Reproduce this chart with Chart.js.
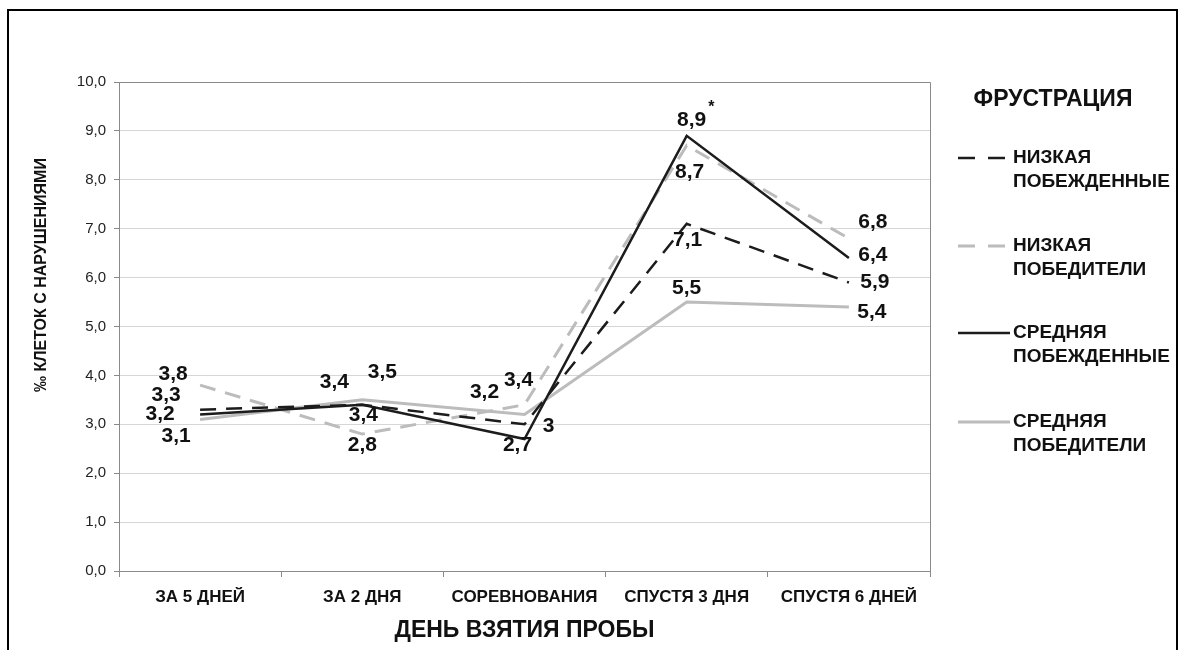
<!DOCTYPE html>
<html lang="ru">
<head>
<meta charset="UTF-8">
<title>Фрустрация</title>
<script src="https://cdn.jsdelivr.net/npm/chart.js"></script>
<style>
    html, body { margin: 0; padding: 0; background: #fff; }
    .wrap { width: 1180px; height: 650px; }
</style>
</head>
<body>
<div class="wrap"><canvas id="myChart" width="1180" height="650"></canvas></div>
<script>
    // data
    const days = ['ЗА 5 ДНЕЙ', 'ЗА 2 ДНЯ', 'СОРЕВНОВАНИЯ', 'СПУСТЯ 3 ДНЯ', 'СПУСТЯ 6 ДНЕЙ'];
    const seriesNames = ['НИЗКАЯ ПОБЕЖДЕННЫЕ', 'НИЗКАЯ ПОБЕДИТЕЛИ', 'СРЕДНЯЯ ПОБЕЖДЕННЫЕ', 'СРЕДНЯЯ ПОБЕДИТЕЛИ'];
    const lowLosers = [3.3, 3.4, 3.0, 7.1, 5.9];
    const lowWinners = [3.8, 2.8, 3.4, 8.7, 6.8];
    const midLosers = [3.2, 3.4, 2.7, 8.9, 6.4];
    const midWinners = [3.1, 3.5, 3.2, 5.5, 5.4];
    const midLosersMarks = ['', '', '', '*', ''];
    const legendTitle = 'ФРУСТРАЦИЯ';
    const xTitle = 'ДЕНЬ ВЗЯТИЯ ПРОБЫ';
    const yTitle = '‰ КЛЕТОК С НАРУШЕНИЯМИ';

    const FONT = '"Liberation Sans", Arial, sans-serif';
    const DARK = '#1c1c1c';
    const LIGHT = '#bcbcbc';

    // where each value label sits relative to its point (px)
    const labelOffsets = [
        [[-34, -14], [-28, -23], [24, 2], [1, 16], [26, 0]],
        [[-27, -11], [0, 11], [-6, -25], [3, 27], [24, -16]],
        [[-40, 0], [1, 10], [-7, 6], [5, -16], [24, -3]],
        [[-24, 17], [20, -28], [-40, -22], [0, -14], [23, 5]]
    ];
    const legendRows = [158, 246, 333, 422];

    function fmt(v) {
        return String(v).replace('.', ',');
    }

    const framePlugin = {
        id: 'frame',
        beforeDraw(chart) {
            const c = chart.ctx;
            c.save();
            c.fillStyle = '#fff';
            c.fillRect(0, 0, chart.width, chart.height);
            c.strokeStyle = '#000';
            c.lineWidth = 2;
            c.strokeRect(8, 10, 1169, 700);
            c.restore();
        },
        beforeDatasetsDraw(chart) {
            const a = chart.chartArea;
            const c = chart.ctx;
            c.save();
            c.strokeStyle = '#8a8a8a';
            c.lineWidth = 1;
            c.beginPath();
            c.moveTo(a.left, a.top + 0.5);
            c.lineTo(a.right + 0.5, a.top + 0.5);
            c.lineTo(a.right + 0.5, a.bottom);
            c.stroke();
            // y axis title
            c.translate(42, 275);
            c.rotate(-Math.PI / 2);
            c.fillStyle = '#111';
            c.font = 'bold 16px ' + FONT;
            c.textAlign = 'center';
            c.textBaseline = 'middle';
            c.fillText(yTitle, 0, 0);
            c.restore();
        }
    };

    const valueLabels = {
        id: 'valueLabels',
        afterDatasetsDraw(chart) {
            const c = chart.ctx;
            c.save();
            c.fillStyle = '#111';
            c.textAlign = 'center';
            c.textBaseline = 'middle';
            chart.data.datasets.forEach((ds, i) => {
                const meta = chart.getDatasetMeta(i);
                meta.data.forEach((pt, j) => {
                    const off = labelOffsets[i][j];
                    const txt = fmt(ds.data[j]);
                    const x = pt.x + off[0];
                    const y = pt.y + off[1];
                    c.font = 'bold 21px ' + FONT;
                    c.fillText(txt, x, y);
                    if (ds.marks && ds.marks[j]) {
                        const w = c.measureText(txt).width;
                        c.font = 'bold 16px ' + FONT;
                        c.textAlign = 'left';
                        c.fillText(ds.marks[j], x + w / 2 + 2, y - 12);
                        c.textAlign = 'center';
                    }
                });
            });
            c.restore();
        }
    };

    const sideLegend = {
        id: 'sideLegend',
        afterDraw(chart) {
            const c = chart.ctx;
            c.save();
            c.fillStyle = '#111';
            c.textBaseline = 'middle';
            c.textAlign = 'center';
            c.font = 'bold 23px ' + FONT;
            c.fillText(legendTitle, 1053, 100);
            chart.data.datasets.forEach((ds, i) => {
                const y = legendRows[i];
                c.strokeStyle = ds.borderColor;
                c.lineWidth = ds.borderWidth;
                c.setLineDash(ds.borderDash.length ? [17, 13] : []);
                c.beginPath();
                c.moveTo(958, y);
                c.lineTo(ds.borderDash.length ? 1005 : 1010, y);
                c.stroke();
                c.setLineDash([]);
                c.textAlign = 'left';
                c.font = 'bold 19px ' + FONT;
                const words = ds.label.split(' ');
                c.fillText(words[0], 1013, y);
                c.fillText(words[1], 1013, y + 24);
            });
            c.restore();
        }
    };

    const ctx = document.getElementById('myChart');
    const chart = new Chart(ctx, {
        type: 'line',
        data: {
            labels: days,
            datasets: [
                {
                    label: seriesNames[0],
                    data: lowLosers,
                    borderColor: DARK,
                    borderWidth: 2.5,
                    borderDash: [16, 10],
                    order: 1
                },
                {
                    label: seriesNames[1],
                    data: lowWinners,
                    borderColor: LIGHT,
                    borderWidth: 3,
                    borderDash: [16, 10],
                    order: 2
                },
                {
                    label: seriesNames[2],
                    data: midLosers,
                    marks: midLosersMarks,
                    borderColor: DARK,
                    borderWidth: 2.5,
                    borderDash: [],
                    order: 0
                },
                {
                    label: seriesNames[3],
                    data: midWinners,
                    borderColor: LIGHT,
                    borderWidth: 3,
                    borderDash: [],
                    order: 3
                }
            ]
        },
        options: {
            responsive: false,
            animation: false,
            layout: { padding: { top: 82, right: 250, left: 0, bottom: 0 } },
            elements: {
                point: { radius: 0, hoverRadius: 0 },
                line: { tension: 0, fill: false, borderCapStyle: 'butt' }
            },
            plugins: {
                legend: { display: false },
                tooltip: { enabled: false }
            },
            scales: {
                x: {
                    offset: true,
                    grid: {
                        offset: true,
                        drawOnChartArea: false,
                        drawTicks: true,
                        tickLength: 6,
                        tickColor: '#8a8a8a'
                    },
                    border: { color: '#8a8a8a' },
                    ticks: {
                        color: '#111',
                        font: { family: FONT, size: 17, weight: 'bold' },
                        padding: 10,
                        maxRotation: 0,
                        autoSkip: false
                    },
                    title: {
                        display: true,
                        text: xTitle,
                        color: '#111',
                        font: { family: FONT, size: 23, weight: 'bold' },
                        padding: { top: 0, bottom: 6 }
                    },
                    afterFit(scale) { scale.height = 79; }
                },
                y: {
                    min: 0,
                    max: 10,
                    grid: {
                        color: '#d6d6d6',
                        tickColor: '#8a8a8a',
                        tickLength: 5
                    },
                    border: { color: '#8a8a8a' },
                    ticks: {
                        stepSize: 1,
                        color: '#222',
                        padding: 8,
                        font: { family: FONT, size: 15 },
                        callback: (v) => v.toFixed(1).replace('.', ',')
                    },
                    afterFit(scale) { scale.width = 119; }
                }
            }
        },
        plugins: [framePlugin, valueLabels, sideLegend]
    });
</script>
</body>
</html>
